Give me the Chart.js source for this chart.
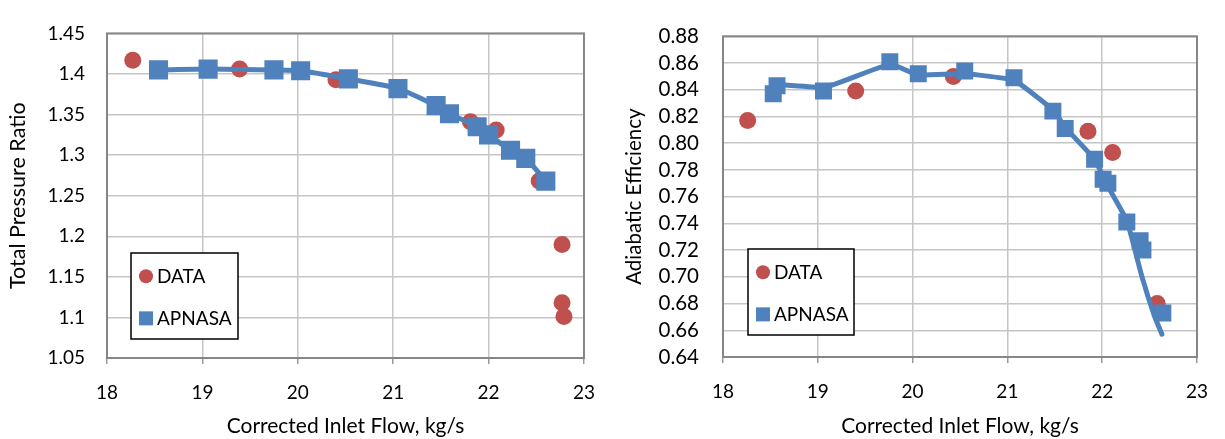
<!DOCTYPE html>
<html>
<head>
<meta charset="utf-8">
<script src="https://cdn.jsdelivr.net/npm/chart.js@4.4.1/dist/chart.umd.min.js"></script>
<style>
  body { margin: 0; background: #fff; width: 1225px; height: 439px; overflow: hidden; }
  .panel { position: absolute; top: 0; height: 439px; }
</style>
</head>
<body>
<div class="panel" style="left:0;width:612px"><canvas id="prChart" width="612" height="439"></canvas></div>
<div class="panel" style="left:612px;width:613px"><canvas id="effChart" width="613" height="439"></canvas></div>
<script>
// axis ticks
const flowTicks = [18, 19, 20, 21, 22, 23];
const prTicks = [1.05, 1.1, 1.15, 1.2, 1.25, 1.3, 1.35, 1.4, 1.45];
const effTicks = [0.64, 0.66, 0.68, 0.70, 0.72, 0.74, 0.76, 0.78, 0.80, 0.82, 0.84, 0.86, 0.88];

// total pressure ratio - test data
const prDataFlow = [18.27, 19.39, 20.40, 21.81, 22.08, 22.53, 22.77, 22.77, 22.79];
const prDataValue = [1.417, 1.406, 1.393, 1.341, 1.331, 1.268, 1.190, 1.118, 1.101];
// total pressure ratio - APNASA
const prCfdFlow = [18.54, 19.06, 19.75, 20.03, 20.53, 21.05, 21.45, 21.59, 21.88, 22.00, 22.23, 22.39, 22.60];
const prCfdValue = [1.405, 1.406, 1.405, 1.404, 1.394, 1.382, 1.361, 1.351, 1.335, 1.325, 1.306, 1.296, 1.268];

// adiabatic efficiency - test data
const effDataFlow = [18.26, 19.40, 20.43, 21.85, 22.11, 22.58];
const effDataValue = [0.817, 0.839, 0.850, 0.809, 0.793, 0.680];
// adiabatic efficiency - APNASA markers
const effCfdFlow = [18.53, 18.57, 19.06, 19.76, 20.06, 20.55, 21.07, 21.48, 21.61, 21.92, 22.01, 22.06, 22.26, 22.40, 22.43, 22.64];
const effCfdValue = [0.837, 0.843, 0.839, 0.861, 0.852, 0.854, 0.849, 0.824, 0.811, 0.788, 0.773, 0.770, 0.741, 0.727, 0.720, 0.673];
// adiabatic efficiency - APNASA curve
const effCurveFlow = [18.56, 19.08, 19.76, 20.06, 20.55, 21.07, 21.48, 21.62, 21.92, 22.05, 22.26, 22.42, 22.55, 22.63];
const effCurveValue = [0.844, 0.842, 0.859, 0.851, 0.852, 0.847, 0.825, 0.811, 0.788, 0.769, 0.742, 0.700, 0.671, 0.657];

const RED = '#C0504D';
const BLUE = '#4F81BD';
const FONT = 'Lato, "Open Sans", sans-serif';

function pts(xs, ys) {
    return xs.map((x, i) => ({ x: x, y: ys[i] }));
}

// frame around the plot area
const framePlugin = {
    id: 'frame',
    afterDatasetsDraw(chart) {
        const a = chart.chartArea;
        const ctx = chart.ctx;
        ctx.save();
        ctx.strokeStyle = '#868686';
        ctx.lineWidth = 2;
        ctx.strokeRect(a.left, a.top, a.right - a.left, a.bottom - a.top);
        ctx.restore();
    }
};

// boxed legend sitting inside the plot
const boxLegend = {
    id: 'boxLegend',
    afterDraw(chart, args, opts) {
        const ctx = chart.ctx;
        ctx.save();
        ctx.fillStyle = '#fff';
        ctx.fillRect(opts.x, opts.y, opts.w, opts.h);
        ctx.strokeStyle = '#000';
        ctx.lineWidth = 1.5;
        ctx.strokeRect(opts.x, opts.y, opts.w, opts.h);
        const mx = opts.x + 15;
        const r1 = opts.y + opts.h * 0.27;
        const r2 = opts.y + opts.h * 0.76;
        ctx.fillStyle = RED;
        ctx.beginPath();
        ctx.arc(mx, r1, 7, 0, Math.PI * 2);
        ctx.fill();
        ctx.fillStyle = BLUE;
        ctx.fillRect(mx - 7, r2 - 7, 14, 14);
        ctx.fillStyle = '#000';
        ctx.font = '19px ' + FONT;
        ctx.textBaseline = 'middle';
        ctx.fillText('DATA', mx + 11, r1 + 1);
        ctx.fillText('APNASA', mx + 11, r2 + 1);
        ctx.restore();
    }
};

function makeChart(id, cfg) {
    return new Chart(document.getElementById(id), {
        type: 'scatter',
        data: {
            datasets: [
                {
                    label: 'APNASA',
                    data: pts(cfg.cfdX, cfg.cfdY),
                    pointStyle: 'rect',
                    pointRadius: cfg.sq,
                    pointHoverRadius: cfg.sq,
                    backgroundColor: BLUE,
                    borderWidth: 0,
                    showLine: false
                },
                {
                    label: 'APNASA curve',
                    data: pts(cfg.lineX, cfg.lineY),
                    showLine: true,
                    pointRadius: 0,
                    borderColor: BLUE,
                    borderWidth: 5,
                    tension: cfg.tension,
                    borderCapStyle: 'round'
                },
                {
                    label: 'DATA',
                    data: pts(cfg.dataX, cfg.dataY),
                    pointStyle: 'circle',
                    pointRadius: 8.5,
                    pointHoverRadius: 8.5,
                    backgroundColor: RED,
                    borderWidth: 0
                }
            ]
        },
        options: {
            responsive: false,
            animation: false,
            layout: { padding: cfg.padding },
            plugins: {
                legend: { display: false },
                tooltip: { enabled: false },
                boxLegend: cfg.legend
            },
            scales: {
                x: {
                    type: 'linear',
                    min: 18, max: 23,
                    afterBuildTicks: s => { s.ticks = flowTicks.map(v => ({ value: v })); },
                    afterFit: s => { s.height = cfg.xHeight; },
                    grid: { color: '#c6c6c6', lineWidth: 1.5, tickLength: 6, tickColor: '#999' },
                    border: { display: false },
                    ticks: { color: '#000', padding: 17, autoSkip: false, maxRotation: 0, font: { family: FONT, size: 19 } },
                    title: {
                        display: true, text: 'Corrected Inlet Flow, kg/s', color: '#000',
                        font: { family: FONT, size: 21 }, padding: { top: 0, bottom: 0 }
                    }
                },
                y: {
                    type: 'linear',
                    min: cfg.yTicks[0], max: cfg.yTicks[cfg.yTicks.length - 1],
                    afterBuildTicks: s => { s.ticks = cfg.yTicks.map(v => ({ value: v })); },
                    afterFit: s => { s.width = cfg.yWidth; },
                    grid: { color: '#c6c6c6', lineWidth: 1.5, drawTicks: false },
                    border: { display: false },
                    ticks: {
                        color: '#000', padding: cfg.yPad, autoSkip: false,
                        font: { family: FONT, size: cfg.yTickSize },
                        callback: cfg.fmt
                    },
                    title: {
                        display: true, text: cfg.yTitle, color: '#000',
                        font: { family: FONT, size: cfg.yTitleSize }, padding: { top: cfg.yTitlePad, bottom: 0 }
                    }
                }
            }
        },
        plugins: [framePlugin, boxLegend]
    });
}

makeChart('prChart', {
    cfdX: prCfdFlow, cfdY: prCfdValue,
    lineX: prCfdFlow, lineY: prCfdValue,
    dataX: prDataFlow, dataY: prDataValue,
    sq: 13.5, tension: 0.2,
    yTicks: prTicks, yTickSize: 19,
    fmt: v => String(Math.round(v * 100) / 100),
    yTitle: 'Total Pressure Ratio', yTitleSize: 21.5, yTitlePad: 5,
    yWidth: 107, yPad: 22, xHeight: 81,
    padding: { top: 20, right: 21, left: 0, bottom: 0 },
    legend: { x: 131, y: 253, w: 107, h: 86 }
});

makeChart('effChart', {
    cfdX: effCfdFlow, cfdY: effCfdValue,
    lineX: effCurveFlow, lineY: effCurveValue,
    dataX: effDataFlow, dataY: effDataValue,
    sq: 12, tension: 0.12,
    yTicks: effTicks, yTickSize: 20.5,
    fmt: v => v.toFixed(2),
    yTitle: 'Adiabatic Efficiency', yTitleSize: 20.5, yTitlePad: 10,
    yWidth: 111, yPad: 24, xHeight: 82,
    padding: { top: 21, right: 19, left: 0, bottom: 0 },
    legend: { x: 136, y: 249, w: 106, h: 86 }
});
</script>
</body>
</html>
